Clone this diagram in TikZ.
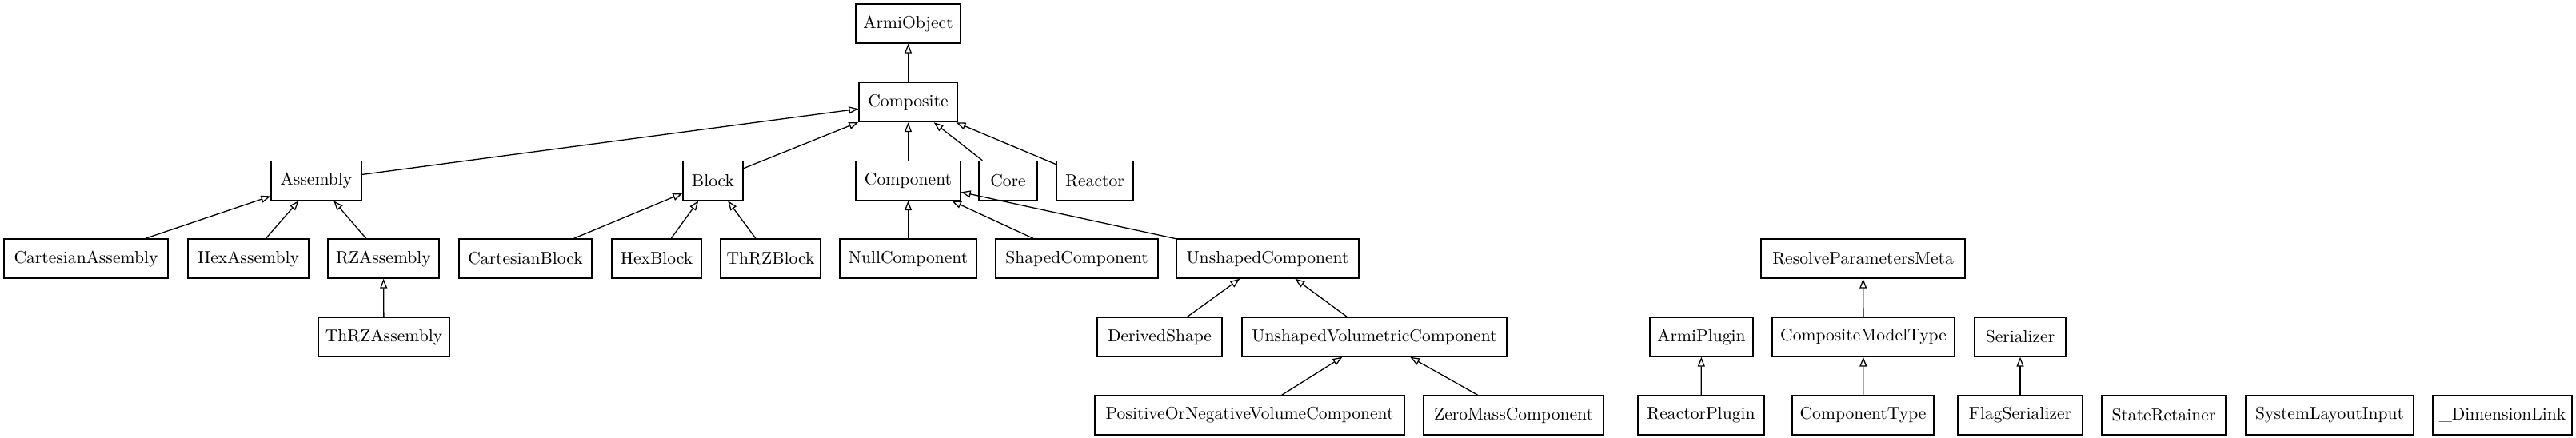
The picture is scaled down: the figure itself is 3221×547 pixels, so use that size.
\documentclass[tikz,border=0pt]{standalone}
\usetikzlibrary{arrows.meta}
\begin{document}
\begin{tikzpicture}[x=0.5pt,y=-0.5pt,
  cls/.style={draw, line width=0.7pt, minimum height=24.5pt, inner xsep=2pt, inner ysep=0pt,
    font=\fontsize{10.8pt}{13pt}\selectfont},
  inh/.style={line width=0.65pt, -{Triangle[open, length=6pt, width=4.5pt]}}]
\useasboundingbox (0,0) rectangle (3221,547);
% row 0
\node[cls, minimum width=65.5pt] (armi) at (1135.5,29.5) {ArmiObject};
% row 1
\node[cls, minimum width=61.5pt] (comp) at (1135.5,128) {Composite};
% row 2
\node[cls, minimum width=56.5pt] (asm) at (395.5,226) {Assembly};
\node[cls, minimum width=37.5pt] (blk) at (891.5,226) {Block};
\node[cls, minimum width=65.5pt] (cmp) at (1135.5,226) {Component};
\node[cls, minimum width=36.5pt] (core) at (1260.5,226) {Core};
\node[cls, minimum width=48pt] (reac) at (1369,226) {Reactor};
% row 3
\node[cls, minimum width=102.5pt] (casm) at (107.5,323.5) {CartesianAssembly};
\node[cls, minimum width=75.5pt] (hasm) at (310.5,323.5) {HexAssembly};
\node[cls, minimum width=69.5pt] (rzasm) at (479.5,323.5) {RZAssembly};
\node[cls, minimum width=83pt] (cblk) at (657,323.5) {CartesianBlock};
\node[cls, minimum width=56pt] (hblk) at (821,323.5) {HexBlock};
\node[cls, minimum width=62.5pt] (tblk) at (963.5,323.5) {ThRZBlock};
\node[cls, minimum width=85.5pt] (ncmp) at (1135.5,323.5) {NullComponent};
\node[cls, minimum width=101.5pt] (scmp) at (1346.5,323.5) {ShapedComponent};
\node[cls, minimum width=114pt] (ucmp) at (1585,323.5) {UnshapedComponent};
\node[cls, minimum width=127.5pt] (rpm) at (2329.5,323.5) {ResolveParametersMeta};
% row 4
\node[cls, minimum width=82pt] (trzasm) at (480,421.5) {ThRZAssembly};
\node[cls, minimum width=78pt] (dshape) at (1450,421.5) {DerivedShape};
\node[cls, minimum width=165.5pt] (uvc) at (1718.5,421.5) {UnshapedVolumetricComponent};
\node[cls, minimum width=64.5pt] (aplug) at (2127.5,421.5) {ArmiPlugin};
\node[cls, minimum width=114pt] (cmt) at (2330,421.5) {CompositeModelType};
\node[cls, minimum width=57pt] (ser) at (2526,421.5) {Serializer};
% row 5
\node[cls, minimum width=193.5pt] (ponv) at (1562.5,519.5) {PositiveOrNegativeVolumeComponent};
\node[cls, minimum width=112.5pt] (zmc) at (1892.5,519.5) {ZeroMassComponent};
\node[cls, minimum width=79pt] (rplug) at (2127,519.5) {ReactorPlugin};
\node[cls, minimum width=88.5pt] (ctype) at (2329.5,519.5) {ComponentType};
\node[cls, minimum width=78pt] (fser) at (2526,519.5) {FlagSerializer};
\node[cls, minimum width=77.5pt] (sret) at (2705.5,519.5) {StateRetainer};
\node[cls, minimum width=105pt] (sli) at (2913,519.5) {SystemLayoutInput};
\node[cls, minimum width=87pt] (dlink) at (3129,519.5) {\_DimensionLink};
% edges
\draw[inh] (comp) -- (armi);
\draw[inh] (asm) -- (comp);
\draw[inh] (blk) -- (comp);
\draw[inh] (cmp) -- (comp);
\draw[inh] (core) -- (comp);
\draw[inh] (reac) -- (comp);
\draw[inh] (casm) -- (asm);
\draw[inh] (hasm) -- (asm);
\draw[inh] (rzasm) -- (asm);
\draw[inh] (trzasm) -- (rzasm);
\draw[inh] (cblk) -- (blk);
\draw[inh] (hblk) -- (blk);
\draw[inh] (tblk) -- (blk);
\draw[inh] (ncmp) -- (cmp);
\draw[inh] (scmp) -- (cmp);
\draw[inh] (ucmp) -- (cmp);
\draw[inh] (dshape) -- (ucmp);
\draw[inh] (uvc) -- (ucmp);
\draw[inh] (ponv) -- (uvc);
\draw[inh] (zmc) -- (uvc);
\draw[inh] (rplug) -- (aplug);
\draw[inh] (cmt) -- (rpm);
\draw[inh] (ctype) -- (cmt);
\draw[inh] (fser) -- (ser);
\end{tikzpicture}
\end{document}
